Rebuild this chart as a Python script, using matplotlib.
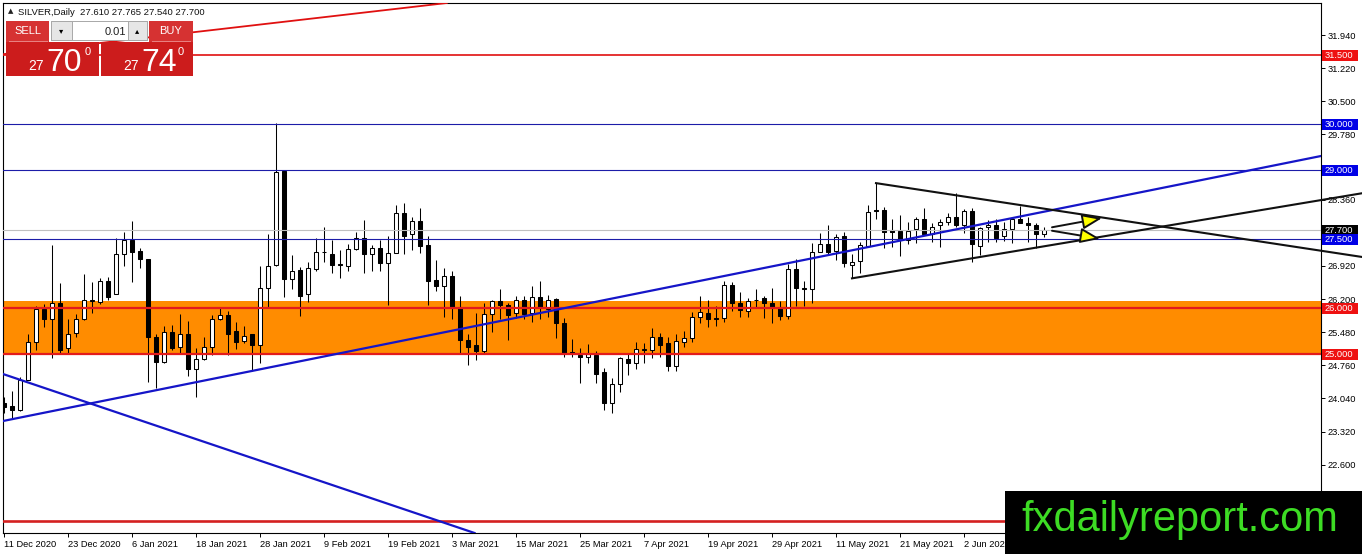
import matplotlib
matplotlib.use('Agg')
import matplotlib.pyplot as plt
from matplotlib.patches import Rectangle
from matplotlib.lines import Line2D
from matplotlib.transforms import blended_transform_factory

plt.rcParams['font.family'] = ['Liberation Sans', 'DejaVu Sans']

# ---------------- data ----------------
opens = [23.93, 23.87, 23.79, 24.45, 25.26, 25.98, 25.76, 26.11, 25.13, 25.47,
         25.76, 26.15, 26.14, 26.60, 26.32, 27.18, 27.48, 27.25, 27.06, 25.37,
         24.84, 25.49, 25.15, 25.45, 24.69, 24.89, 25.15, 25.76, 25.85, 25.50,
         25.28, 25.43, 25.20, 26.43, 26.93, 28.98, 26.63, 26.83, 26.30, 26.85,
         27.22, 27.19, 26.96, 26.92, 27.28, 27.52, 27.17, 27.30, 26.98, 27.21,
         28.08, 27.61, 27.90, 27.38, 26.61, 26.49, 26.70, 26.03, 25.30, 25.20,
         25.06, 25.87, 26.16, 26.06, 25.90, 26.17, 25.89, 26.24, 25.98, 26.21,
         25.69, 25.04, 24.98, 24.95, 24.98, 24.61, 23.95, 24.35, 24.90, 24.82,
         25.09, 25.09, 25.38, 25.24, 24.75, 25.27, 25.36, 25.80, 25.90, 25.78,
         25.78, 26.51, 26.11, 25.95, 26.17, 26.22, 26.11, 26.03, 25.84, 26.85,
         26.43, 26.41, 27.23, 27.39, 27.24, 27.56, 26.95, 27.03, 27.36, 28.13,
         28.13, 27.70, 27.69, 27.48, 27.72, 27.93, 27.61, 27.80, 27.87, 27.98,
         27.82, 28.11, 27.36, 27.76, 27.82, 27.56, 27.72, 27.95, 27.85, 27.80,
         27.61]
highs = [24.08, 24.21, 24.51, 25.45, 26.05, 26.09, 27.38, 26.54, 25.76, 25.87,
         26.74, 26.57, 26.65, 26.67, 27.52, 27.66, 27.90, 27.30, 27.08, 25.44,
         25.61, 25.64, 25.87, 25.73, 25.13, 25.37, 25.85, 26.00, 25.93, 25.71,
         25.61, 25.44, 26.92, 27.61, 30.02, 28.99, 27.16, 26.89, 27.01, 27.52,
         27.77, 27.48, 27.27, 27.40, 27.66, 27.92, 27.38, 27.48, 27.56, 28.24,
         28.28, 27.98, 28.19, 27.56, 27.05, 26.87, 26.80, 26.27, 25.45, 25.89,
         26.11, 26.18, 26.42, 26.11, 26.27, 26.27, 26.48, 26.59, 26.29, 26.22,
         25.78, 25.33, 25.13, 25.22, 25.08, 24.71, 24.48, 24.95, 25.03, 25.27,
         25.24, 25.56, 25.47, 25.38, 25.43, 25.51, 25.92, 26.27, 26.19, 26.05,
         26.60, 26.56, 26.36, 26.22, 26.41, 26.27, 26.43, 26.16, 26.96, 27.06,
         26.59, 27.41, 27.64, 27.82, 27.61, 27.65, 27.19, 27.43, 28.24, 28.72,
         28.21, 27.95, 28.03, 27.87, 27.98, 28.19, 27.85, 27.93, 28.08, 28.50,
         28.16, 28.19, 27.77, 27.92, 27.93, 27.88, 27.97, 28.22, 27.99, 27.85,
         27.765]
lows = [23.72, 23.61, 23.77, 24.44, 25.09, 25.60, 24.91, 25.02, 25.02, 25.37,
        25.74, 25.89, 26.09, 26.18, 26.30, 26.92, 26.56, 26.87, 24.40, 24.27,
        24.82, 25.09, 25.02, 24.53, 24.06, 24.88, 24.98, 25.75, 24.99, 25.11,
        25.24, 24.64, 24.82, 26.03, 26.92, 26.24, 26.41, 25.84, 26.13, 26.80,
        27.01, 26.77, 26.65, 26.80, 27.27, 26.77, 26.80, 26.82, 26.08, 27.20,
        27.18, 27.27, 27.21, 26.07, 26.38, 25.80, 25.77, 25.02, 24.77, 24.88,
        25.02, 25.48, 25.77, 25.31, 25.78, 25.77, 25.71, 25.77, 25.82, 25.36,
        24.95, 24.93, 24.37, 24.82, 24.38, 23.79, 23.72, 24.19, 24.55, 24.69,
        24.80, 24.91, 24.93, 24.64, 24.64, 25.15, 25.27, 25.67, 25.59, 25.61,
        25.71, 25.93, 25.80, 25.80, 26.02, 25.78, 25.67, 25.74, 25.76, 26.05,
        26.05, 26.12, 27.22, 27.18, 27.05, 26.89, 26.65, 26.76, 27.34, 27.95,
        27.30, 27.34, 27.14, 27.40, 27.41, 27.59, 27.43, 27.34, 27.81, 27.77,
        27.63, 27.00, 27.16, 27.43, 27.45, 27.47, 27.41, 27.85, 27.43, 27.32,
        27.54]
closes = [23.86, 23.79, 24.44, 25.27, 25.98, 25.76, 26.11, 25.09, 25.45, 25.76,
          26.18, 26.18, 26.60, 26.25, 27.18, 27.48, 27.23, 27.06, 25.37, 24.84,
          25.49, 25.14, 25.45, 24.69, 24.89, 25.15, 25.76, 25.85, 25.43, 25.27,
          25.40, 25.20, 26.43, 26.92, 28.96, 26.63, 26.82, 26.27, 26.87, 27.22,
          27.23, 26.95, 26.93, 27.28, 27.52, 27.17, 27.30, 26.98, 27.21, 28.06,
          27.57, 27.90, 27.35, 26.60, 26.49, 26.70, 26.03, 25.30, 25.16, 25.06,
          25.87, 26.16, 26.06, 25.85, 26.17, 25.87, 26.24, 26.03, 26.19, 25.69,
          25.03, 25.02, 24.95, 25.00, 24.58, 23.95, 24.35, 24.91, 24.82, 25.11,
          25.11, 25.38, 25.20, 24.75, 25.29, 25.36, 25.80, 25.91, 25.76, 25.76,
          26.51, 26.11, 25.96, 26.16, 26.19, 26.12, 26.03, 25.83, 26.85, 26.45,
          26.41, 27.23, 27.39, 27.23, 27.54, 26.98, 27.01, 27.37, 28.10, 28.11,
          27.66, 27.66, 27.50, 27.69, 27.93, 27.61, 27.77, 27.87, 27.98, 27.81,
          28.11, 27.39, 27.74, 27.82, 27.53, 27.72, 27.95, 27.86, 27.80, 27.61,
          27.70]

date_labels = ["11 Dec 2020", "23 Dec 2020", "6 Jan 2021", "18 Jan 2021", "28 Jan 2021",
               "9 Feb 2021", "19 Feb 2021", "3 Mar 2021", "15 Mar 2021", "25 Mar 2021",
               "7 Apr 2021", "19 Apr 2021", "29 Apr 2021", "11 May 2021", "21 May 2021",
               "2 Jun 2021"]
label_step = 8

price_ticks = [31.94, 31.22, 30.50, 29.78, 28.36, 26.92, 26.20, 25.48, 24.76, 24.04, 23.32, 22.60]

# horizontal levels
red_levels = [31.5, 26.0, 25.0, 21.37]
blue_levels = [30.0, 29.0, 27.5]
current_price = 27.70
zone_low, zone_high = 24.98, 26.15

# price boxes visible on the right scale
box_levels = [31.5, 30.0, 29.0, 27.70, 27.5, 26.0, 25.0]
box_colors = ['#ee1111', '#0000e6', '#0000e6', '#000000', '#0000e6', '#ee1111', '#ee1111']

# trend lines (bar index, price)
blue_up = [(0, 23.553), (160, 29.148)]
blue_down = [(0, 24.563), (50, 21.631)]
red_diag = [(23.9, 32.005), (56.4, 32.657)]
tri_upper = [(109, 28.72), (169.75, 27.115)]
tri_lower = [(106, 26.65), (169.75, 28.50)]
arrow_up = [(131, 27.76), (137.25, 27.96)]
arrow_down = [(131, 27.685), (137, 27.51)]

# ---------------- figure ----------------
W, H = 1362, 554
fig = plt.figure(figsize=(W / 100, H / 100), dpi=100)
fig.patch.set_facecolor('white')
ax = fig.add_axes([3 / W, (H - 533) / H, (1321 - 3) / W, (533 - 3) / H])
ax.set_xlim(-0.125, 164.625)
ax.set_ylim(21.114, 32.636)

for s in ax.spines.values():
    s.set_linewidth(0.8)
    s.set_color('black')

# orange zone
ax.axhspan(zone_low, zone_high, color='#ff8c00', zorder=1, lw=0)

# candles
n = len(opens)
xs = list(range(n))
ax.vlines(xs, lows, highs, color='black', lw=0.75, zorder=3)
bottoms = [min(o, c) for o, c in zip(opens, closes)]
heights = [abs(c - o) for o, c in zip(opens, closes)]
faces = ['white' if c >= o else 'black' for o, c in zip(opens, closes)]
ax.bar(xs, heights, bottom=bottoms, width=0.62, color=faces, edgecolor='black',
       linewidth=0.75, zorder=4)

# horizontal lines
ax.axhline(current_price, color='#c0c0c0', lw=0.8, zorder=5)
for lv in blue_levels:
    ax.axhline(lv, color='#1c1ca8', lw=0.8, zorder=5)
ax.axhline(red_levels[0], color='#e01010', lw=1.2, zorder=5)
ax.axhline(red_levels[1], color='#e31b1b', lw=1.6, zorder=5)
ax.axhline(red_levels[2], color='#e31b1b', lw=1.6, zorder=5)
ax.axhline(red_levels[3], color='#d42020', lw=1.9, zorder=5)

# trend lines
ax.axline(blue_up[0], blue_up[1], color='#1515c8', lw=1.6, zorder=6)
ax.axline(blue_down[0], blue_down[1], color='#1515c8', lw=1.6, zorder=6)
ax.axline(red_diag[0], red_diag[1], color='#e01010', lw=1.3, zorder=6)
for seg in (tri_upper, tri_lower):
    ax.add_line(Line2D([seg[0][0], seg[1][0]], [seg[0][1], seg[1][1]], color='#111111',
                       lw=1.5, zorder=7, clip_on=False))
for seg in (arrow_up, arrow_down):
    ax.annotate('', xy=seg[1], xytext=seg[0],
                arrowprops=dict(arrowstyle='-|>,head_length=0.6,head_width=0.23',
                                fc='#ffff00', ec='#111111', lw=1.4,
                                shrinkA=0, shrinkB=0, mutation_scale=20),
                zorder=8, annotation_clip=False)

# axes ticks
ax.yaxis.tick_right()
ax.set_yticks(price_ticks)
ax.set_yticklabels([f'{t:.3f}' for t in price_ticks])
ax.tick_params(axis='y', length=3, width=0.7, pad=2, labelsize=6.7, colors='black')
ticks_x = list(range(0, label_step * len(date_labels), label_step))
ax.set_xticks(ticks_x)
ax.set_xticklabels(date_labels)
ax.tick_params(axis='x', length=3, width=0.7, pad=2, labelsize=6.7)
for lab in ax.get_xticklabels():
    lab.set_ha('left')

# price boxes on the right scale
trans = blended_transform_factory(ax.transAxes, ax.transData)
axw = 1318.0
for lv, col in zip(box_levels, box_colors):
    ax.add_patch(Rectangle((1 + 1 / axw, lv - 5.5 / 46), 36 / axw, 11 / 46,
                           transform=trans, fc=col, ec='none', clip_on=False, zorder=9))
    ax.text(1 + 3.5 / axw, lv, f'{lv:.3f}', transform=trans, color='white',
            fontsize=6.7, va='center', ha='left', clip_on=False, zorder=10)


# ---------------- overlay panel ----------------
def frect(x0, y0, x1, y1, **kw):
    r = Rectangle((x0 / W, 1 - y1 / H), (x1 - x0) / W, (y1 - y0) / H,
                  transform=fig.transFigure, **kw)
    fig.add_artist(r)


def ftext(x, y, s, **kw):
    fig.text(x / W, 1 - y / H, s, **kw)


ftext(8, 13.5, '▲', fontsize=5, family='DejaVu Sans', color='#222222')
ftext(18, 15, 'SILVER,Daily  27.610 27.765 27.540 27.700', fontsize=6.8, color='#111111')

# small buttons
frect(6, 21, 49, 42, fc='#d63232', ec='none', zorder=20)
frect(149, 21, 193, 42, fc='#d63232', ec='none', zorder=20)
frect(9, 41, 48, 42, fc='#e88080', ec='none', zorder=21)
frect(152, 41, 191, 42, fc='#e88080', ec='none', zorder=21)
ftext(27.5, 31, 'SELL', fontsize=8, color='white', ha='center', va='center', zorder=22)
ftext(171, 31, 'BUY', fontsize=8, color='white', ha='center', va='center', zorder=22)
# spin control
frect(51, 21, 147, 40, fc='#ffffff', ec='#a8a8a8', lw=0.7, zorder=20)
frect(51, 21, 72, 40, fc='#e6e6e6', ec='#a8a8a8', lw=0.7, zorder=21)
frect(128, 21, 147, 40, fc='#e6e6e6', ec='#a8a8a8', lw=0.7, zorder=21)
ftext(61.5, 30.5, '▾', fontsize=6, family='DejaVu Sans', ha='center', va='center', zorder=22)
ftext(137.5, 30.5, '▴', fontsize=6, family='DejaVu Sans', ha='center', va='center', zorder=22)
ftext(126, 35, '0.01', fontsize=8, color='#202020', ha='right', zorder=22)
# big price boxes
frect(6, 42, 99, 76, fc='#cc1c1c', ec='none', zorder=20)
frect(101, 42, 193, 76, fc='#cc1c1c', ec='none', zorder=20)
ftext(28, 70, '27', fontsize=10, color='white', zorder=22)
ftext(46, 71, '70', fontsize=23, color='white', zorder=22)
ftext(85, 55, '0', fontsize=8, color='white', zorder=22)
ftext(123, 70, '27', fontsize=10, color='white', zorder=22)
ftext(141, 71, '74', fontsize=23, color='white', zorder=22)
ftext(178, 55, '0', fontsize=8, color='white', zorder=22)

# watermark
frect(1005, 491, 1362, 554, fc='black', ec='none', zorder=30)
ftext(1021, 531, 'fxdailyreport.com', fontsize=30, color='#3ddc24', zorder=31)

fig.savefig('out.png', dpi=100)
